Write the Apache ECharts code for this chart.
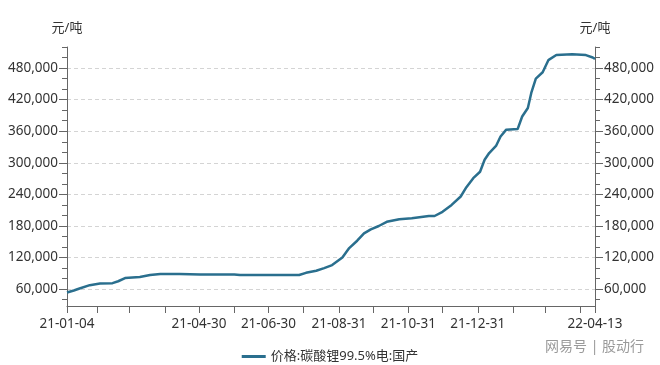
<!DOCTYPE html>
<html><head><meta charset="utf-8">
<script src="https://cdn.jsdelivr.net/npm/echarts@6/dist/echarts.min.js"></script>
<style>html,body{margin:0;padding:0;background:#fff}#c{width:660px;height:365px}</style>
</head><body><div id="c"></div>
<script>
const seriesName = '价格:碳酸锂99.5%电:国产';
const unitName = '元/吨';
const dates = ['2021-01-04','2021-01-10','2021-01-15','2021-01-24','2021-02-02','2021-02-13','2021-02-18','2021-02-24','2021-03-09','2021-03-18','2021-03-27','2021-04-13','2021-05-01','2021-05-31','2021-06-05','2021-07-27','2021-08-02','2021-08-11','2021-08-18','2021-08-25','2021-09-03','2021-09-09','2021-09-16','2021-09-22','2021-09-28','2021-10-05','2021-10-12','2021-10-23','2021-11-03','2021-11-18','2021-11-23','2021-11-30','2021-12-08','2021-12-16','2021-12-21','2021-12-27','2022-01-02','2022-01-06','2022-01-10','2022-01-16','2022-01-20','2022-01-25','2022-02-04','2022-02-08','2022-02-13','2022-02-16','2022-02-20','2022-02-26','2022-03-03','2022-03-10','2022-03-24','2022-04-05','2022-04-11','2022-04-13'];
const prices = [53700,57500,61300,67600,70800,71400,75000,81000,83000,86700,89000,89000,88000,88000,86800,86800,91000,95000,100000,105700,120000,138000,152000,166000,173700,180000,188000,192800,194700,199000,199000,207000,220000,236000,253700,270900,283000,305700,318500,332000,350000,363000,364000,388000,404000,432800,460000,472000,495000,504700,506000,504700,500000,497500];
const yLabelValues = [60000,120000,180000,240000,300000,360000,420000,480000];
const yMinorValues = [40000,60000,80000,100000,120000,140000,160000,180000,200000,220000,240000,260000,280000,300000,320000,340000,360000,380000,400000,420000,440000,460000,480000,500000,520000];
const xStart = '2021-01-04', xEnd = '2022-04-13';
const xTickDates = ['2021-01-04','2021-01-31','2021-02-28','2021-03-31','2021-04-30','2021-05-31','2021-06-30','2021-07-31','2021-08-31','2021-09-30','2021-10-31','2021-11-30','2021-12-31','2022-01-31','2022-02-28','2022-03-31','2022-04-13'];
const xLabelDates = ['2021-01-04','2021-04-30','2021-06-30','2021-08-31','2021-10-31','2021-12-31','2022-04-13'];

const DAY = 86400000;
function utc(s){const p=s.split('-').map(Number);return Date.UTC(p[0],p[1]-1,p[2]);}
const t0 = utc(xStart);
function dayIdx(s){return Math.round((utc(s)-t0)/DAY);}
function fmtDay(n){const d=new Date(t0+Math.round(n)*DAY);const p=x=>String(x).padStart(2,'0');return p(d.getUTCFullYear()%100)+'-'+p(d.getUTCMonth()+1)+'-'+p(d.getUTCDate());}
const FONT = '"Noto Sans","Noto Sans CJK SC",sans-serif';
const lineCol = '#666';
const textCol = '#333';
const yMin = 28000, yMax = 520000;

function mainY(pos){
  return {type:'value',position:pos,min:yMin,max:yMax,
    name:unitName,nameLocation:'end',nameGap:12,
    nameTextStyle:{color:textCol,fontSize:13,fontFamily:FONT,align:'center'},
    axisLine:{show:true,lineStyle:{color:lineCol,width:1}},
    axisTick:{show:true,customValues:yLabelValues,length:8,lineStyle:{color:lineCol}},
    axisLabel:{customValues:yLabelValues,margin:9,color:textCol,fontSize:13.5,fontFamily:FONT,
      formatter:v=>Number(v).toLocaleString('en-US')},
    splitLine:{show:pos==='left',lineStyle:{color:'#d4d4d4',type:[4,3],width:1}}};
}
function minorY(pos){
  return {type:'value',position:pos,min:yMin,max:yMax,
    axisLine:{show:false},
    axisTick:{show:true,customValues:yMinorValues,length:5,lineStyle:{color:lineCol}},
    axisLabel:{show:false},splitLine:{show:false}};
}

const chart = echarts.init(document.getElementById('c'),null,{renderer:'canvas'});
chart.setOption({
  animation:false,
  backgroundColor:'#fff',
  grid:{left:67,right:65,top:47,bottom:59,containLabel:false},
  legend:{data:[{name:seriesName}],top:345,left:'center',icon:'rect',itemWidth:24,itemHeight:3,itemGap:6,
    textStyle:{color:textCol,fontSize:13,fontFamily:FONT}},
  xAxis:{type:'value',min:0,max:dayIdx(xEnd),
    axisLine:{show:true,onZero:false,lineStyle:{color:lineCol}},
    axisTick:{show:true,customValues:xTickDates.map(dayIdx),length:7,lineStyle:{color:lineCol}},
    axisLabel:{customValues:xLabelDates.map(dayIdx),margin:11,color:textCol,fontSize:13.5,fontFamily:FONT,
      formatter:v=>fmtDay(v),hideOverlap:false},
    splitLine:{show:false}},
  yAxis:[mainY('left'),minorY('left'),mainY('right'),minorY('right')],
  series:[{name:seriesName,type:'line',yAxisIndex:0,showSymbol:false,symbol:'none',
    data:dates.map((d,i)=>[dayIdx(d),prices[i]]),
    lineStyle:{color:'#2a6f8e',width:2.5},itemStyle:{color:'#2a6f8e'}}],
  graphic:[{type:'text',right:16,top:340,style:{text:'网易号 | 股动行',fill:'#9a9a9a',fontSize:14,fontFamily:FONT}}]
});
</script></body></html>
